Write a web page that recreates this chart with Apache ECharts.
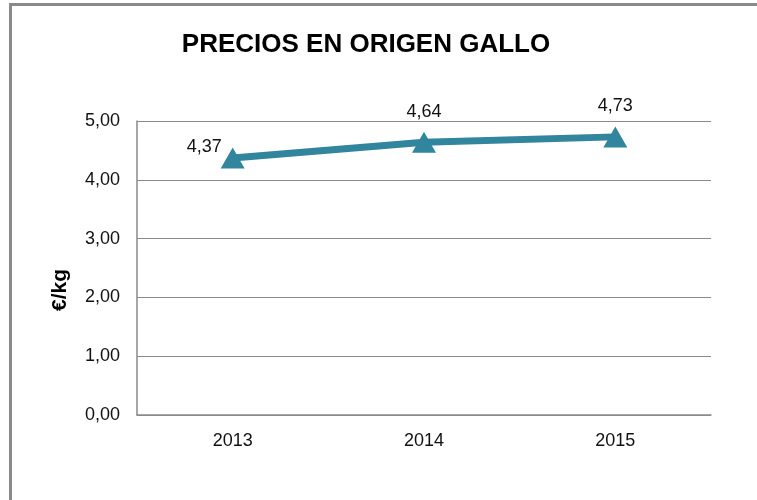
<!DOCTYPE html>
<html>
<head>
<meta charset="utf-8">
<title>Precios en origen gallo</title>
<script src="https://cdn.jsdelivr.net/npm/echarts@6/dist/echarts.min.js"></script>
<style>
  html, body { margin: 0; padding: 0; background: #fff; }
  .container { position: relative; width: 757px; height: 500px; }
  #chart { position: absolute; left: 0; top: 0; width: 757px; height: 500px; }
  /* marco gris: solo arriba e izquierda */
  .frame {
    position: absolute; left: 9px; top: 3px; right: 0; bottom: 0;
    border-top: 3px solid #8a8a8a; border-left: 3px solid #8a8a8a;
    pointer-events: none;
  }
</style>
</head>
<body>
<div class="container">
  <div id="chart"></div>
  <div class="frame"></div>
</div>
<script>
  // datos
  const years = ['2013', '2014', '2015']
  const prices = [4.37, 4.64, 4.73]

  const fmt = v => v.toFixed(2).replace('.', ',')

  const chart = echarts.init(document.getElementById('chart'))
  chart.setOption({
    animation: false,
    textStyle: { fontFamily: 'Liberation Sans, Arial, sans-serif' },
    title: {
      text: 'PRECIOS EN ORIGEN GALLO',
      left: 361,
      top: 27,
      textAlign: 'center',
      textStyle: { fontSize: 26, fontWeight: 'bold', color: '#000' }
    },
    grid: { left: 137, right: 46, top: 121, bottom: 85 },
    xAxis: {
      type: 'category',
      data: years,
      boundaryGap: true,
      axisLine: { lineStyle: { color: '#8a8a8a', width: 1.5 } },
      axisTick: { show: false },
      axisLabel: { color: '#111', fontSize: 18, margin: 17 }
    },
    yAxis: {
      type: 'value',
      min: 0,
      max: 5,
      interval: 1,
      name: '€/kg',
      nameLocation: 'middle',
      nameGap: 66,
      nameTextStyle: { fontSize: 21, fontWeight: 'bold', color: '#000', padding: [0, 44, 0, 0] },
      axisLine: { show: true, lineStyle: { color: '#8a8a8a', width: 1.5 } },
      axisTick: { show: false },
      axisLabel: { color: '#111', fontSize: 18, margin: 17, formatter: fmt },
      splitLine: { lineStyle: { color: '#8a8a8a', width: 1.2 } }
    },
    series: [
      {
        type: 'line',
        data: [
          { value: prices[0], label: { position: 'left', distance: 0, offset: [1, -11] } },
          { value: prices[1] },
          { value: prices[2] }
        ],
        lineStyle: { color: '#31859c', width: 7 },
        itemStyle: { color: '#31859c' },
        symbol: 'triangle',
        symbolSize: [24, 21],
        label: {
          show: true,
          position: 'top',
          fontSize: 18,
          color: '#111',
          distance: 11,
          formatter: p => fmt(p.value)
        }
      }
    ]
  })
</script>
</body>
</html>
